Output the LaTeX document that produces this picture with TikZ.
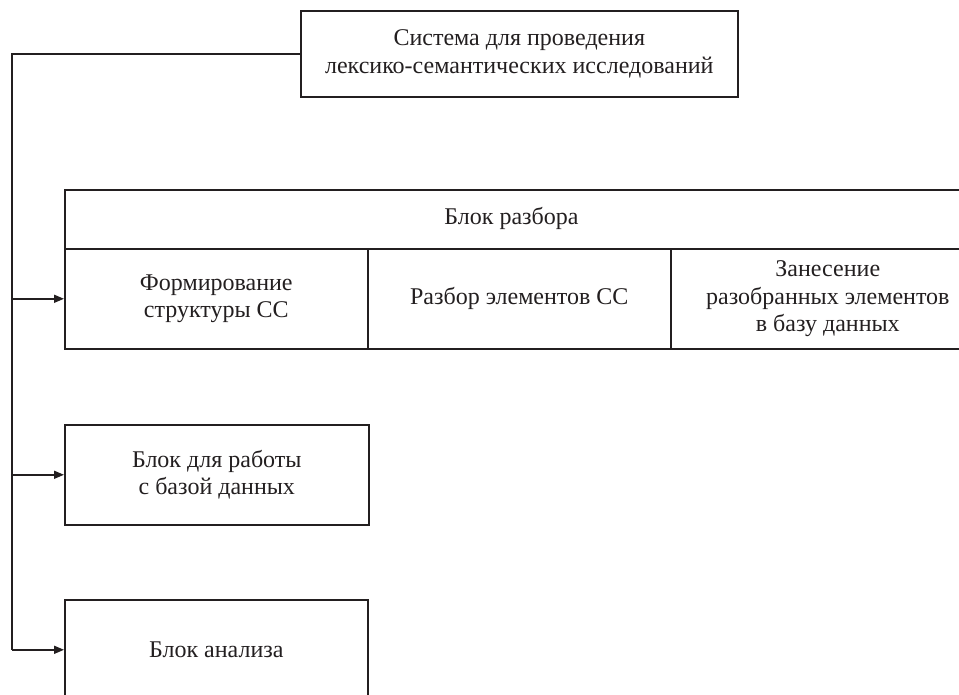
\documentclass[tikz,border=0pt]{standalone}
\usepackage{fontspec}
\setmainfont{Liberation Serif}
\usetikzlibrary{arrows.meta}
\definecolor{ink}{HTML}{231F20}
\tikzset{
  box/.style={draw=ink, line width=0.8pt, anchor=north west, inner sep=0pt,
    align=center, font=\fontsize{12}{13.8}\selectfont, text=ink},
  conn/.style={draw=ink, line width=0.8pt},
  arr/.style={conn, -{Triangle[length=5pt,width=4pt]}}
}
\begin{document}
\begin{tikzpicture}[x=0.5pt,y=-0.5pt]
\useasboundingbox (0,0) rectangle (959,695);
\clip (0,0) rectangle (959,695);
% top system box
\node[box, minimum width=218.5pt, minimum height=43pt] (sys) at (300,10)
  {Система для проведения\\лексико-семантических исследований};
% parsing block
\node[box, minimum width=460pt, minimum height=29.5pt] (parse) at (64,189) {};
\node[text=ink, font=\fontsize{12}{13.8}\selectfont] (parsetitle) at (511.5,218) {Блок разбора};
\node[box, minimum width=151.5pt, minimum height=50pt] (f1) at (64,248)
  {Формирование\\структуры СС};
\node[box, minimum width=151.5pt, minimum height=50pt] (f2) at (367,248)
  {Разбор элементов СС};
\node[box, minimum width=157pt, minimum height=50pt] (f3) at (670,248)
  {Занесение\\разобранных элементов\\в базу данных};
% database block
\node[box, minimum width=152pt, minimum height=50pt] (db) at (64,424)
  {Блок для работы\\с базой данных};
% analysis block
\node[box, minimum width=151.5pt, minimum height=50pt] (ana) at (64,599)
  {Блок анализа};
% connectors
\coordinate (bus) at (12,52);
\draw[conn] (sys.west) -- (sys.west -| bus) -- (bus |- ana.west);
\draw[arr] (bus |- f1.west) -- (f1.west);
\draw[arr] (bus |- db.west) -- (db.west);
\draw[arr] (bus |- ana.west) -- (ana.west);
\end{tikzpicture}
\end{document}
